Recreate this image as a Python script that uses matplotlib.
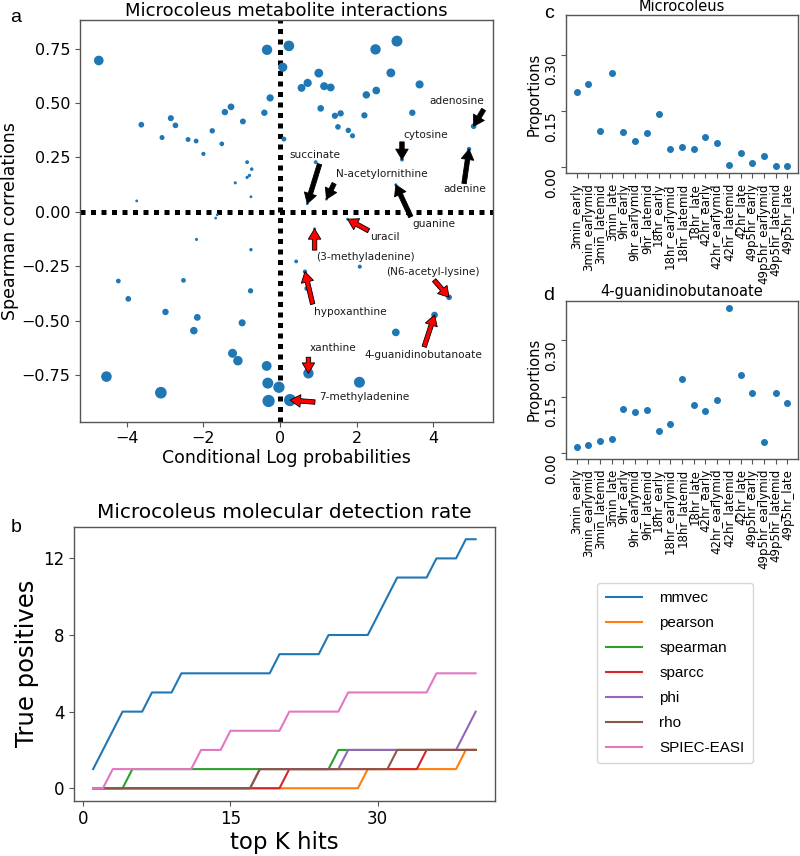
import matplotlib
matplotlib.use("Agg")
import matplotlib.pyplot as plt
import numpy as np

# ---------------- Panel a data ----------------
corr_x = [-4.73, -0.34, 0.23, 0.07, 0.56, 0.72, 1.01, 1.15, 1.32, 1.06,
          -0.26, -0.41, -1.28, -1.44, -0.97, -1.77, -1.52, -2.00, -2.19, -2.40,
          -2.73, -2.85, -3.08, -3.62, -3.74, -0.86, -0.74, -0.80, -0.86, -1.17,
          -0.76, -1.64, -1.68, 0.10, 0.93, 0.71, 1.21, 1.43, 1.58, 1.51,
          1.78, 1.89, 2.25, 2.20, 2.51, 2.49, 3.05, 2.89, 3.64, 3.45,
          3.18, 5.05, 4.93, 3.02, 1.76, -2.18, -0.76, -4.22, -3.96, -2.52,
          -2.99, -2.16, -2.25, -0.99, -0.77, -1.24, -1.10, -0.35, -4.53, -3.11,
          -0.32, -0.03, -0.30, 0.26, 0.74, 0.90, 0.42, 0.65, 0.70, 2.08,
          4.41, 4.03, 3.02, 2.07]
corr_y = [0.695, 0.744, 0.762, 0.664, 0.569, 0.592, 0.637, 0.577, 0.571, 0.475,
          0.523, 0.455, 0.482, 0.458, 0.415, 0.372, 0.312, 0.266, 0.325, 0.332,
          0.397, 0.430, 0.341, 0.400, 0.050, 0.228, 0.196, 0.167, 0.158, 0.133,
          0.069, -0.014, -0.029, 0.334, 0.228, 0.037, 0.058, 0.441, 0.452, 0.390,
          0.374, 0.349, 0.537, 0.443, 0.557, 0.746, 0.784, 0.638, 0.585, 0.455,
          0.240, 0.393, 0.288, 0.124, -0.034, -0.127, -0.174, -0.318, -0.400, -0.315,
          -0.460, -0.485, -0.546, -0.510, -0.363, -0.650, -0.684, -0.708, -0.757, -0.831,
          -0.787, -0.806, -0.869, -0.865, -0.742, -0.078, -0.228, -0.275, -0.352, -0.252,
          -0.393, -0.474, -0.554, -0.783]

# label, index of annotated point, text position, arrow tail, arrow colour
annotations = [
    ("succinate", 35, (0.90, 0.263), (1.03, 0.219), "black"),
    ("N-acetylornithine", 36, (2.66, 0.173), (1.41, 0.130), "black"),
    ("cytosine", 50, (3.79, 0.355), (3.18, 0.321), "black"),
    ("adenosine", 51, (4.60, 0.510), (5.31, 0.470), "black"),
    ("adenine", 52, (4.83, 0.103), (4.80, 0.130), "black"),
    ("guanine", 53, (4.00, -0.056), (3.41, -0.023), "black"),
    ("uracil", 54, (2.74, -0.118), (2.31, -0.087), "red"),
    ("(3-methyladenine)", 75, (2.23, -0.207), (0.90, -0.176), "red"),
    ("hypoxanthine", 77, (1.83, -0.462), (0.85, -0.424), "red"),
    ("(N6-acetyl-lysine)", 80, (3.98, -0.275), (4.02, -0.314), "red"),
    ("4-guanidinobutanoate", 81, (3.75, -0.658), (3.76, -0.620), "red"),
    ("xanthine", 74, (1.38, -0.627), (0.74, -0.668), "red"),
    ("7-methyladenine", 73, (2.21, -0.849), (0.91, -0.874), "red"),
]

# ---------------- Panel b data ----------------
k_hits = list(range(1, 41))
detect = {
    "mmvec":      [1, 2, 3, 4, 4, 4, 5, 5, 5, 6, 6, 6, 6, 6, 6, 6, 6, 6, 6, 7,
                   7, 7, 7, 7, 8, 8, 8, 8, 8, 9, 10, 11, 11, 11, 11, 12, 12, 12, 13, 13],
    "pearson":    [0]*28 + [1]*10 + [2, 2],
    "spearman":   [0]*4 + [1]*21 + [2]*15,
    "sparcc":     [0]*20 + [1]*14 + [2]*6,
    "phi":        [0]*17 + [1]*9 + [2]*12 + [3, 4],
    "rho":        [0]*17 + [1]*14 + [2]*9,
    "SPIEC-EASI": [0, 0] + [1]*9 + [2]*3 + [3]*6 + [4]*6 + [5]*9 + [6]*5,
}

# ---------------- Panels c, d data ----------------
samples = ["3min_early", "3min_earlymid", "3min_latemid", "3min_late", "9hr_early",
           "9hr_earlymid", "9hr_latemid", "18hr_early", "18hr_earlymid", "18hr_latemid",
           "18hr_late", "42hr_early", "42hr_earlymid", "42hr_latemid", "42hr_late",
           "49p5hr_early", "49p5hr_earlymid", "49p5hr_latemid", "49p5hr_late"]
microcoleus_prop = [0.200, 0.223, 0.097, 0.251, 0.095, 0.070, 0.091, 0.141, 0.048, 0.055,
                    0.050, 0.080, 0.064, 0.006, 0.037, 0.011, 0.029, 0.003, 0.003]
guanidino_prop = [0.016, 0.022, 0.033, 0.038, 0.118, 0.110, 0.115, 0.059, 0.076, 0.197,
                  0.129, 0.112, 0.142, 0.387, 0.208, 0.161, 0.029, 0.159, 0.133]

# ---------------- Figure ----------------
plt.rcParams["font.family"] = ["DejaVu Sans"]
fig = plt.figure(figsize=(8.0, 8.56), dpi=100)
spine_col = "#555555"

def style_spines(ax):
    for s in ax.spines.values():
        s.set_edgecolor(spine_col)
        s.set_linewidth(1.0)
    ax.tick_params(color=spine_col)

# Panel a
axa = fig.add_axes([0.100, 0.5074, 0.516, 0.469])
cx = np.array(corr_x); cy = np.array(corr_y)
sizes = 1 + 85 * np.abs(cy) ** 2.5
axa.scatter(cx, cy, s=sizes, color="#1f77b4", zorder=3)
axa.axhline(0, color="black", lw=3.6, linestyle=(0, (1, 1.1)), zorder=2)
axa.axvline(0, color="black", lw=3.6, linestyle=(0, (1, 1.1)), zorder=2)
for label, idx, txy, tail, col in annotations:
    axa.annotate("", xy=(corr_x[idx], corr_y[idx]), xytext=tail,
                 arrowprops=dict(facecolor=col, edgecolor="black", width=3.2,
                                 headwidth=9, headlength=7.5, lw=0.6, shrink=0.0),
                 zorder=4)
    axa.text(txy[0], txy[1], label, ha="center", va="center", fontsize=7.6,
             color="#1a1a1a", zorder=5)
axa.set_xlim(-5.22, 5.55)
axa.set_ylim(-0.964, 0.88)
axa.set_xticks([-4, -2, 0, 2, 4])
axa.set_yticks([0.75, 0.50, 0.25, 0.0, -0.25, -0.50, -0.75])
axa.set_yticklabels(["0.75", "0.50", "0.25", "0.00", "−0.25", "−0.50", "−0.75"])
axa.tick_params(labelsize=11.5)
axa.set_xlabel("Conditional Log probabilities", fontsize=12.5, labelpad=2)
axa.set_ylabel("Spearman correlations", fontsize=12.5, labelpad=2)
axa.set_title("Microcoleus metabolite interactions", fontsize=13, pad=3)
style_spines(axa)

# Panel b
axb = fig.add_axes([0.0925, 0.0646, 0.526, 0.320])
handles = []
for i, (name, vals) in enumerate(detect.items()):
    ln, = axb.plot(k_hits, vals, color=f"C{i}", lw=1.5, label=name)
    handles.append(ln)
axb.set_xticks([0, 15, 30])
axb.set_yticks([0, 4, 8, 12])
axb.tick_params(labelsize=12)
axb.set_xlabel("top K hits", fontsize=16.5, labelpad=2)
axb.set_ylabel("True positives", fontsize=17.5, labelpad=3)
axb.set_title("Microcoleus molecular detection rate", fontsize=14.5, pad=6)
style_spines(axb)

# Panels c and d
axc = fig.add_axes([0.7075, 0.7975, 0.290, 0.185])
axd = fig.add_axes([0.7075, 0.4638, 0.290, 0.185], sharey=axc)
for ax, vals, title in [(axc, microcoleus_prop, "Microcoleus"),
                        (axd, guanidino_prop, "4-guanidinobutanoate")]:
    xs = np.arange(len(samples))
    ax.scatter(xs, vals, s=16, color="#1f77b4", zorder=3)
    ax.set_xticks(xs)
    ax.set_xticklabels(samples, rotation=90, fontsize=8.5)
    ax.set_yticks([0.0, 0.15, 0.30])
    ax.set_yticklabels(["0.00", "0.15", "0.30"])
    ax.tick_params(axis="y", labelrotation=90, labelsize=10, pad=2)
    for t in ax.get_yticklabels():
        t.set_va("top")
    ax.set_ylabel("Proportions", fontsize=10.5, labelpad=2)
    ax.set_title(title, fontsize=10.5, pad=3)
    style_spines(ax)

# Legend
fig.legend(handles=handles, labels=list(detect.keys()), loc="center",
           bbox_to_anchor=(675 / 800, 1 - 673 / 856),
           prop={"family": "Liberation Sans", "size": 11},
           handlelength=2.4, handletextpad=1.1, labelspacing=0.72,
           borderpad=0.55, framealpha=0.8, edgecolor="#cccccc")

# Panel letters
for lab, x, y in [("a", 10, 17), ("b", 11, 527), ("c", 544, 14), ("d", 543, 296)]:
    fig.text(x / 800, 1 - y / 856, lab, fontsize=14, family="Liberation Sans",
             ha="left", va="center")

fig.savefig("out.png", dpi=100)
